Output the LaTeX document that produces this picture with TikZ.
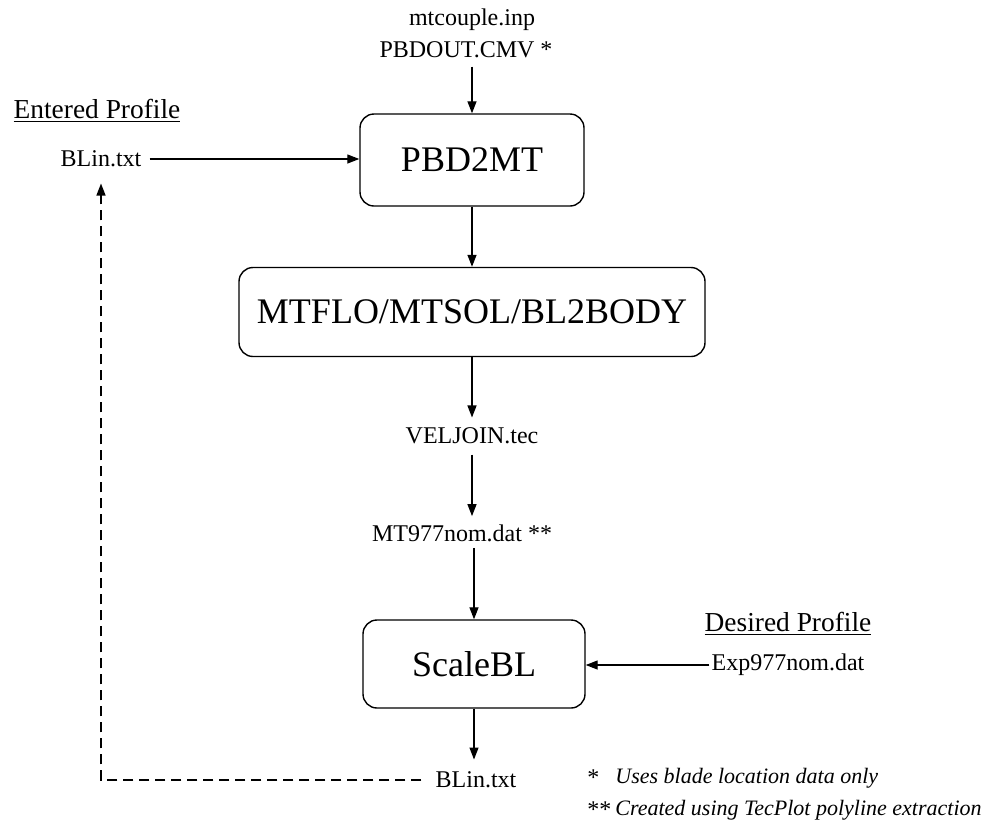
\documentclass[tikz,border=0pt]{standalone}
\usepackage{fontspec}
\setmainfont{Liberation Serif}
\usetikzlibrary{arrows.meta,calc}
\begin{document}
\begin{tikzpicture}[x=0.5pt,y=-0.5pt,
  box/.style={draw, rounded corners=7pt, line width=0.7pt, inner sep=0pt, font=\fontsize{18}{21}\selectfont},
  lbl/.style={inner sep=1pt, font=\fontsize{12}{14}\selectfont},
  head/.style={inner sep=1pt, font=\fontsize{13.7}{16}\selectfont},
  note/.style={inner sep=0pt, anchor=west, font=\fontsize{11}{13}\selectfont\itshape},
  arr/.style={-{Triangle[length=6pt,width=4.5pt]}, line width=0.65pt},
  dasharr/.style={arr, dash pattern=on 5pt off 3pt}]
\useasboundingbox (0,0) rectangle (985,826);
% nodes
\node[lbl] (in1) at (472,20) {mtcouple.inp};
\node[lbl] (in2) at (466,50) {PBDOUT.CMV *};
\node[box, minimum width=112pt, minimum height=46pt] (pbd) at (472,160) {PBD2MT};
\node[box, minimum width=233pt, minimum height=44.5pt] (mtf) at (472,312) {MTFLO/MTSOL/BL2BODY};
\node[lbl] (vel) at (472,436) {VELJOIN.tec};
\node[lbl] (mt977) at (462,533) {MT977nom.dat **};
\node[box, minimum width=111pt, minimum height=44pt] (scl) at (474,664) {ScaleBL};
\node[lbl] (exp) at (788,665) {Exp977nom.dat};
\node[head] (des) at (788,624) {\underline{Desired Profile}};
\node[lbl] (blo) at (476,780) {BLin.txt};
\node[lbl] (bli) at (101,159) {BLin.txt};
\node[head] (ent) at (97,111) {\underline{Entered Profile}};
\node[lbl, anchor=west] (s1) at (585,778) {*};
\node[note] (n1) at (615,778) {Uses blade location data only};
\node[lbl, anchor=west] (s2) at (585,810) {**};
\node[note] (n2) at (615,810) {Created using TecPlot polyline extraction};
% connectors
\coordinate (a1) at (mt977.south -| scl.north);
\draw[arr, shorten <=3pt] (in2.south -| pbd.north) -- (pbd.north);
\draw[arr] (pbd.south) -- (mtf.north);
\draw[arr, shorten >=4pt] (mtf.south) -- (vel.north);
\draw[arr, shorten <=4pt, shorten >=3pt] (vel.south) -- (vel.south |- mt977.north);
\draw[arr, shorten <=2pt] (a1) -- (scl.north);
\draw[arr, shorten >=5pt] (scl.south) -- (scl.south |- blo.north);
\draw[arr] (exp.west) -- (exp.west -| scl.east);
\draw[arr, shorten <=3pt] (bli.east) -- (bli.east -| pbd.west);
\coordinate (corner) at (bli.south |- blo.west);
\draw[dasharr, shorten <=6pt, shorten >=7pt] (blo.west) -- (corner) -- (bli.south);
\end{tikzpicture}
\end{document}
